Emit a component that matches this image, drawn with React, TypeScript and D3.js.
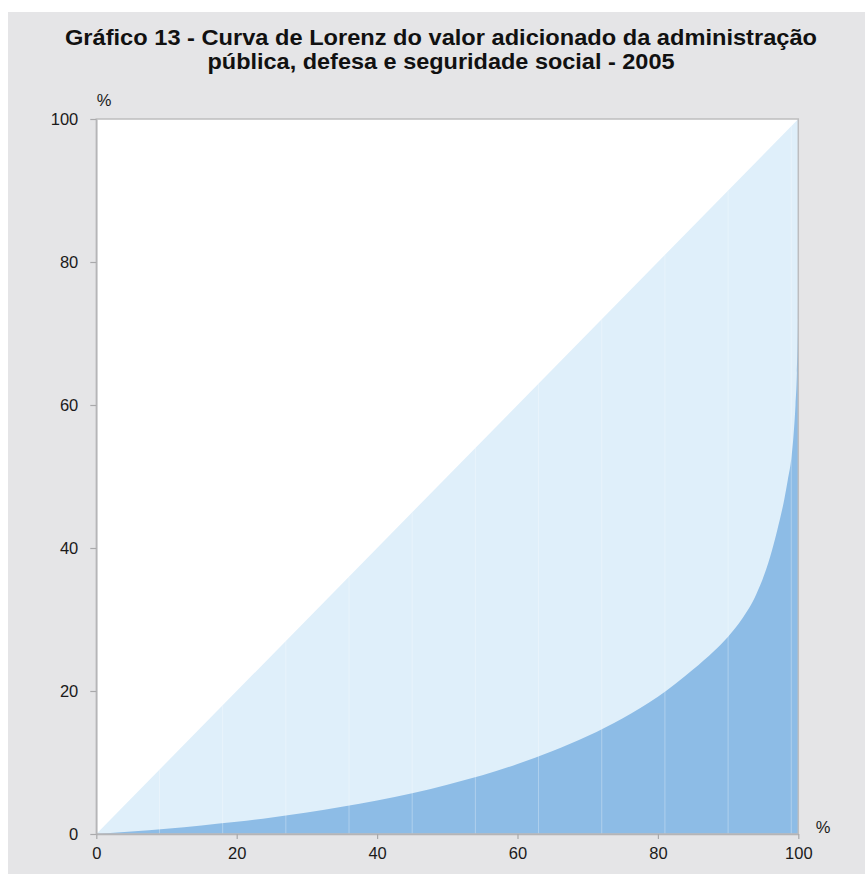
import React, { useEffect, useRef } from 'react';
import * as d3 from 'd3';

// cumulative share of municipalities (%) and of value added (%)
const populacao = [0, 5, 10, 15, 20, 25, 30, 35, 40, 45, 50, 55, 60, 65, 70, 75, 80, 85, 88, 90, 92, 94, 96, 97, 98, 98.5, 99, 99.3, 99.6, 99.8, 99.95, 100];
const valor = [0, 0.35, 0.75, 1.2, 1.7, 2.3, 3.0, 3.8, 4.7, 5.7, 6.9, 8.2, 9.8, 11.6, 13.7, 16.2, 19.2, 23.0, 25.6, 27.6, 30.1, 33.5, 38.8, 42.5, 46.8, 49.5, 52.5, 55.5, 60.0, 64.5, 72.0, 100];
const seams = [9, 18, 27, 36, 45, 54, 63, 72, 81, 90, 99];
const ticks = [0, 20, 40, 60, 80, 100];
const titleLines = [
  'Gráfico 13 - Curva de Lorenz do valor adicionado da administração',
  'pública, defesa e seguridade social - 2005',
];

const W = 865;
const H = 874;
const margin = { left: 96.3, right: 865 - 798.3, top: 119, bottom: 874 - 834 };

const App: React.FC = () => {
  const ref = useRef<SVGSVGElement>(null);

  useEffect(() => {
    const svg = d3.select(ref.current);
    svg.selectAll('*').remove();

    const x = d3.scaleLinear().domain([0, 100]).range([margin.left, W - margin.right]);
    const y = d3.scaleLinear().domain([0, 100]).range([H - margin.bottom, margin.top]);
    const font = '"Liberation Sans", Arial, sans-serif';

    // background
    svg.append('rect').attr('x', 8).attr('y', 12).attr('width', W - 8).attr('height', H - 12).attr('fill', '#e5e5e7');
    svg.append('rect')
      .attr('x', x(0)).attr('y', y(100))
      .attr('width', x(100) - x(0)).attr('height', y(0) - y(100))
      .attr('fill', '#ffffff');

    // area between equality line and the x axis
    const pts = populacao.map((p, i) => [p, valor[i]] as [number, number]);
    svg.append('path')
      .attr('d', d3.line<[number, number]>().x(d => x(d[0])).y(d => y(d[1]))([[0, 0], [100, 100], [100, 0]]) + 'Z')
      .attr('fill', '#dfeffa');

    // area under the Lorenz curve
    const area = d3.area<[number, number]>()
      .x(d => x(d[0]))
      .y0(y(0))
      .y1(d => y(d[1]))
      .curve(d3.curveMonotoneX);
    svg.append('path').attr('d', area(pts)).attr('fill', '#8dbce6');

    // faint seams between segments
    svg.append('g').selectAll('line').data(seams).enter().append('line')
      .attr('x1', d => x(d)).attr('x2', d => x(d))
      .attr('y1', y(0)).attr('y2', d => y(d))
      .attr('stroke', '#ffffff').attr('stroke-opacity', 0.3).attr('stroke-width', 1);

    // frame
    svg.append('rect')
      .attr('x', x(0)).attr('y', y(100))
      .attr('width', x(100) - x(0)).attr('height', y(0) - y(100))
      .attr('fill', 'none').attr('stroke', '#bdbdbf').attr('stroke-width', 1.5);

    // axes
    const gx = svg.append('g').attr('transform', `translate(0,${y(0)})`)
      .call(d3.axisBottom(x).tickValues(ticks).tickSize(5).tickSizeOuter(0).tickPadding(8));
    const gy = svg.append('g').attr('transform', `translate(${x(0)},0)`)
      .call(d3.axisLeft(y).tickValues(ticks).tickSize(6).tickSizeOuter(0).tickPadding(12));
    [gx, gy].forEach(g => {
      g.select('.domain').attr('stroke', '#b5b5b7').attr('stroke-width', 1.5);
      g.selectAll('.tick line').attr('stroke', '#a9a9ab').attr('stroke-width', 1.2);
      g.selectAll('.tick text').attr('fill', '#1a1a1a').style('font-family', font).style('font-size', '16.5px');
    });

    // unit labels
    svg.append('text').attr('x', 104).attr('y', 106).attr('text-anchor', 'middle')
      .style('font-family', font).style('font-size', '16.5px').attr('fill', '#1a1a1a').text('%');
    svg.append('text').attr('x', 823).attr('y', 833).attr('text-anchor', 'middle')
      .style('font-family', font).style('font-size', '16.5px').attr('fill', '#1a1a1a').text('%');

    // title
    const widths = [752, 467];
    const bases = [45, 68.5];
    titleLines.forEach((t, i) => {
      svg.append('text')
        .attr('x', 441).attr('y', bases[i]).attr('text-anchor', 'middle')
        .attr('textLength', widths[i]).attr('lengthAdjust', 'spacingAndGlyphs')
        .style('font-family', font).style('font-size', '22px').style('font-weight', 'bold')
        .attr('fill', '#111111')
        .text(t);
    });
  }, []);

  return (
    <svg ref={ref} width={W} height={H} style={{ position: 'absolute', left: 0, top: 0, display: 'block' }} />
  );
};

export default App;
